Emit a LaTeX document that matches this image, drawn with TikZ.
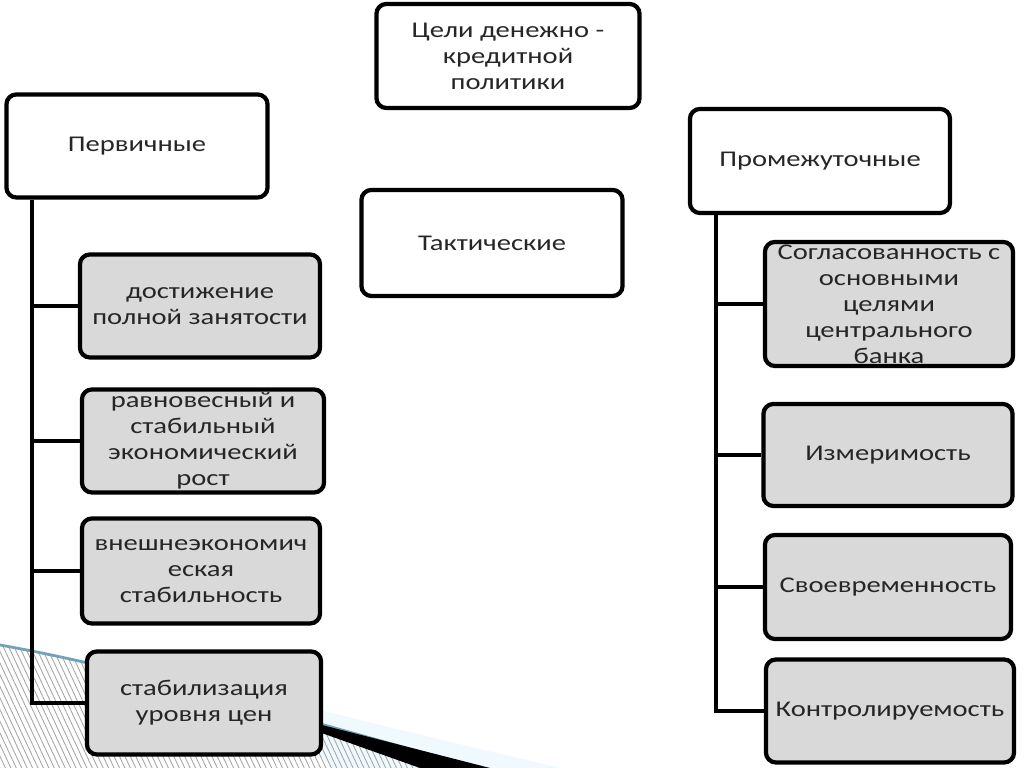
\documentclass[tikz,border=0pt]{standalone}
\usepackage{fontspec}
\setmainfont{Carlito}
\newfontfamily\widefont[FakeStretch=1.27]{Carlito}
\usetikzlibrary{patterns.meta}

\tikzset{
  goalbox/.style={draw, rounded corners=0.1cm, line width=1.2pt, fill=white,
    align=center, inner sep=0pt, text=black!85,
    font=\widefont\fontsize{6.4}{7.4}\selectfont},
  itembox/.style={goalbox, fill=gray!30},
  trunk/.style={line width=1.1pt}
}

\begin{document}
\begin{tikzpicture}[x=0.01cm, y=-0.01cm]
\useasboundingbox (0,0) rectangle (1024,768);
\fill[white] (0,0) rectangle (1024,768);
% background decoration
\fill[cyan!6] (280,700) .. controls (400,730) .. (560,768) -- (330,768) -- cycle;
\fill[pattern={Lines[angle=-65, distance=1.4pt, line width=0.25pt]}, pattern color=gray!70] (0,645) .. controls (150,672) and (300,720) .. (480,768) -- (0,768) -- cycle;
\draw[cyan!40!gray, line width=0.8pt] (0,645) .. controls (150,672) and (300,720) .. (480,768);
\fill[black] (240,704) -- (490,768) -- (420,768) -- cycle;
% top row
\node[goalbox, minimum width=2.63cm, minimum height=1.04cm] (goal) at (508,56) {Цели денежно -\\кредитной\\политики};
\node[goalbox, minimum width=2.61cm, minimum height=1.03cm] (prim) at (137,146) {Первичные};
\node[goalbox, minimum width=2.61cm, minimum height=1.06cm] (tact) at (492,243) {Тактические};
\node[goalbox, minimum width=2.60cm, minimum height=1.04cm] (inter) at (820,161) {Промежуточные};
% primary goals
\node[itembox, minimum width=2.40cm, minimum height=1.03cm] (p1) at (200,306) {достижение\\полной занятости};
\node[itembox, minimum width=2.42cm, minimum height=1.03cm] (p2) at (203,441) {равновесный и\\стабильный\\экономический\\рост};
\node[itembox, minimum width=2.38cm, minimum height=1.05cm] (p3) at (201,571) {внешнеэкономич\\еская\\стабильность};
\node[itembox, minimum width=2.34cm, minimum height=1.03cm] (p4) at (204,703) {стабилизация\\уровня цен};
% intermediate goals
\node[itembox, minimum width=2.48cm, minimum height=1.24cm] (i1) at (889,304) {Согласованность с\\основными\\целями\\центрального\\банка};
\node[itembox, minimum width=2.49cm, minimum height=1.02cm] (i2) at (888,455) {Измеримость};
\node[itembox, minimum width=2.46cm, minimum height=1.04cm] (i3) at (888,587) {Своевременность};
\node[itembox, minimum width=2.48cm, minimum height=1.03cm] (i4) at (890,711) {Контролируемость};
% trunks
\coordinate (lt) at ([xshift=0.28cm]prim.south west);
\coordinate (rt) at ([xshift=0.28cm]inter.south west);
\draw[trunk] (lt) |- (p4.west);
\foreach \b in {p1,p2,p3} \draw[trunk] (\b.west) -- (\b.west -| lt);
\draw[trunk] (rt) |- (i4.west);
\foreach \b in {i1,i2,i3} \draw[trunk] (\b.west) -- (\b.west -| rt);
\end{tikzpicture}
\end{document}
